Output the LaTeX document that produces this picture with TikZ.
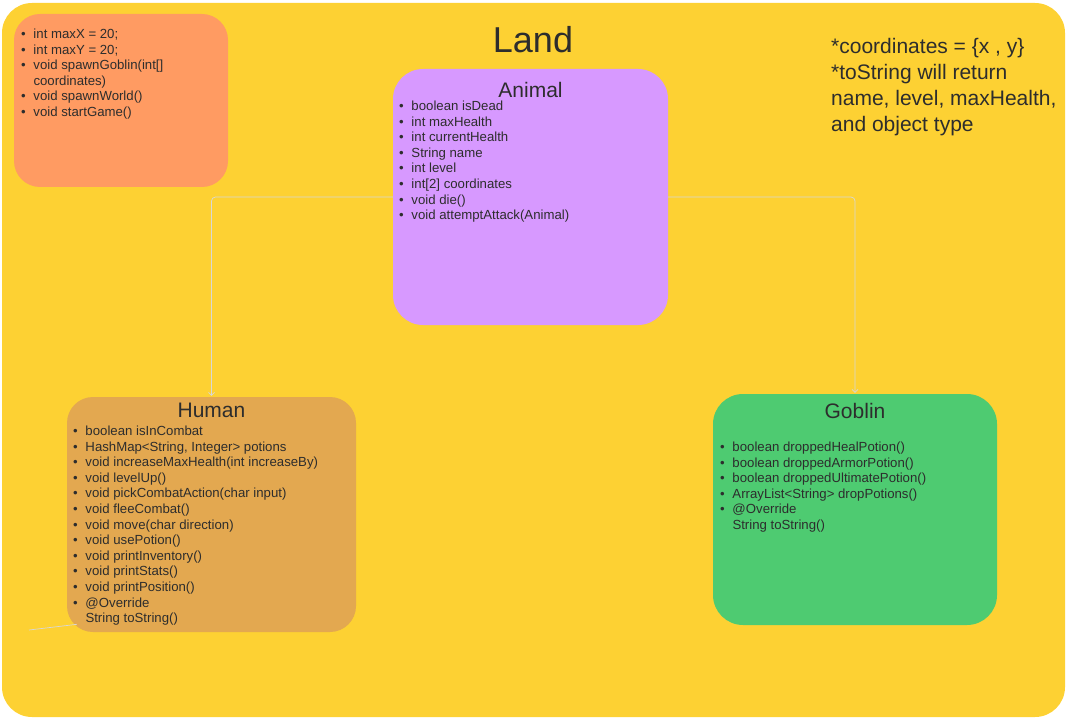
\documentclass[tikz,border=0pt]{standalone}
\usepackage{fontspec}
\setmainfont{Liberation Sans}
\usetikzlibrary{positioning,arrows.meta}

\definecolor{landc}{RGB}{253,209,51}
\definecolor{mainc}{RGB}{255,155,98}
\definecolor{animalc}{RGB}{215,153,255}
\definecolor{humanc}{RGB}{227,168,80}
\definecolor{goblinc}{RGB}{78,203,113}
\definecolor{inkc}{RGB}{45,45,45}
\definecolor{linec}{RGB}{215,215,215}

\newcommand{\bul}{\makebox[12.5pt][l]{\textbullet}}
\newcommand{\cnt}{\hspace*{12.5pt}}

\begin{document}
\begin{tikzpicture}[x=1pt,y=-1pt,
  box/.style={rounded corners=26pt,inner sep=0pt},
  title/.style={font=\fontsize{21}{25}\selectfont,text=inkc},
  list/.style={font=\fontsize{13.2}{15.6}\selectfont,text=inkc,align=left,inner sep=0pt},
  link/.style={draw=linec,line width=0.7pt,rounded corners=4pt,-{Straight Barb[length=3pt,width=6pt]},shorten >=1pt}]
\useasboundingbox (0,0) rectangle (1067,719);
\node[box,fill=landc,minimum width=1063,minimum height=714,rounded corners=30pt] (land) at (533.5,360) {};
\node[font=\fontsize{36}{40}\selectfont,text=inkc] (landt) at (533,40) {Land};

% classes
\node[box,fill=mainc,minimum width=214,minimum height=173] (main) at (121,100.5) {};
\node[box,fill=animalc,minimum width=275,minimum height=256,rounded corners=30pt] (animal) at (530.5,197) {};
\node[box,fill=humanc,minimum width=289,minimum height=235] (human) at (211.5,514.5) {};
\node[box,fill=goblinc,minimum width=284,minimum height=231,rounded corners=30pt] (goblin) at (855,509.5) {};

\node[title,below=10pt of animal.north] (animalt) {Animal};
\node[title,below=3pt of human.north] (humant) {Human};
\node[title,below=6pt of goblin.north] (goblint) {Goblin};

\node[list,below right=15pt and 7pt of main.north west] (mainl) {
  \bul int maxX = 20;\\
  \bul int maxY = 20;\\
  \bul void spawnGoblin(int[]\\
  \cnt coordinates)\\
  \bul void spawnWorld()\\
  \bul void startGame()};
\node[list,below right=32pt and 6pt of animal.north west] (animall) {
  \bul boolean isDead\\
  \bul int maxHealth\\
  \bul int currentHealth\\
  \bul String name\\
  \bul int level\\
  \bul int[2] coordinates\\
  \bul void die()\\
  \bul void attemptAttack(Animal)};
\node[list,below right=29pt and 6pt of human.north west] (humanl) {
  \bul boolean isInCombat\\
  \bul HashMap<String, Integer> potions\\
  \bul void increaseMaxHealth(int increaseBy)\\
  \bul void levelUp()\\
  \bul void pickCombatAction(char input)\\
  \bul void fleeCombat()\\
  \bul void move(char direction)\\
  \bul void usePotion()\\
  \bul void printInventory()\\
  \bul void printStats()\\
  \bul void printPosition()\\
  \bul @Override\\
  \cnt String toString()};
\node[list,below right=48pt and 7pt of goblin.north west] (goblinl) {
  \bul boolean droppedHealPotion()\\
  \bul boolean droppedArmorPotion()\\
  \bul boolean droppedUltimatePotion()\\
  \bul ArrayList<String> dropPotions()\\
  \bul @Override\\
  \cnt String toString()};

% note
\node[list,font=\fontsize{21}{26}\selectfont,anchor=north west] (note) at (831,38) {
  *coordinates = \{x , y\}\\
  *toString will return\\
  name, level, maxHealth,\\
  and object type};

% inheritance
\draw[link] (animal.west) -| (human.north);
\draw[link] (animal.east) -| (goblin.north);
\coordinate (tail) at (29,630);
\draw[link,-] (tail) -- ([shift={(11pt,8pt)}]human.south west);
\end{tikzpicture}
\end{document}
